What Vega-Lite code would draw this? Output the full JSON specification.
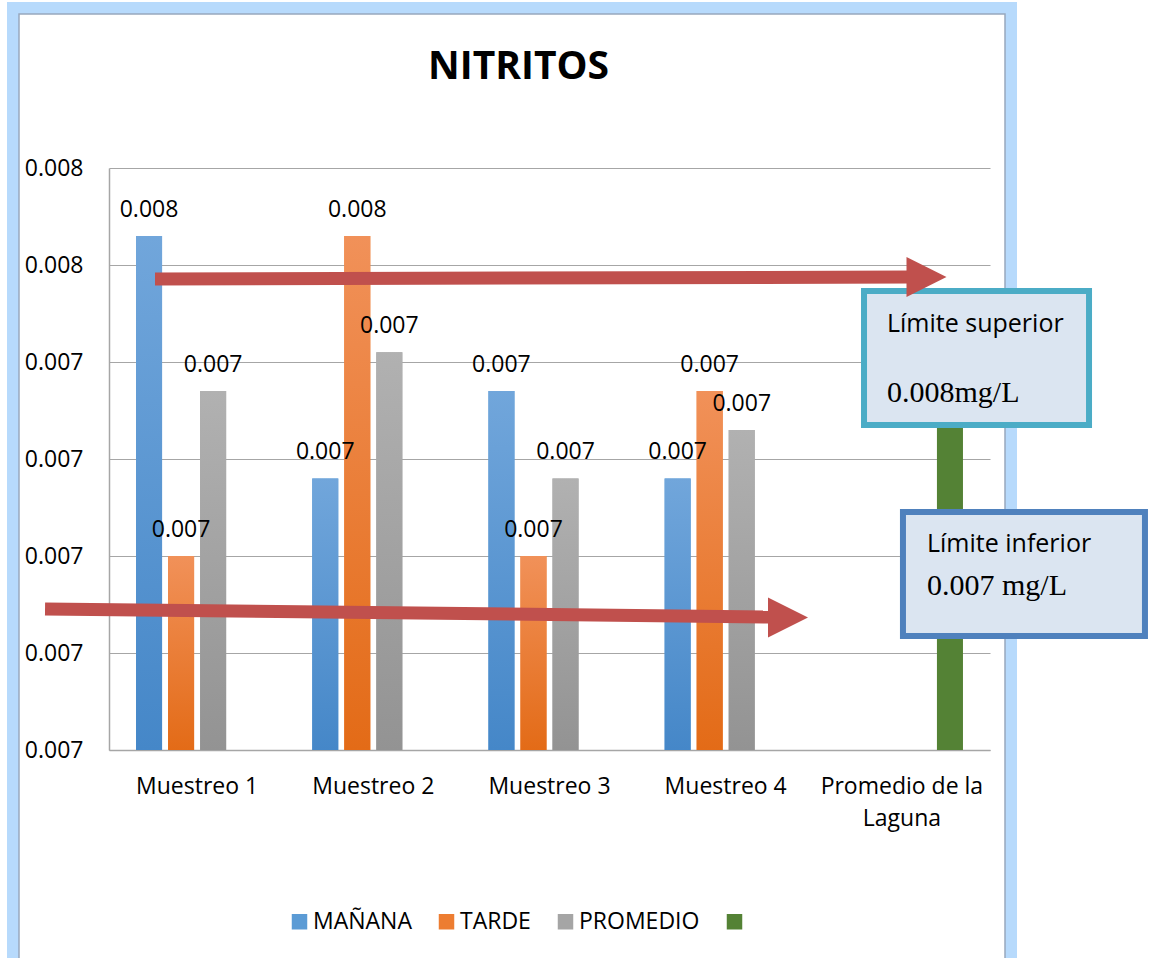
{
  "$schema": "https://vega.github.io/schema/vega-lite/v6.json",
  "width": 881,
  "height": 582,
  "autosize": {"type": "none"},
  "padding": {"left": 109, "top": 168, "right": 161, "bottom": 208},
  "background": "white",
  "title": {"text": "NITRITOS", "font": "Open Sans", "fontSize": 39, "fontWeight": "bold", "color": "#000000", "anchor": "middle", "baseline": "alphabetic", "offset": -116, "dx": -31},
  "config": {"view": {"stroke": null}, "font": "Open Sans"},
  "resolve": {"scale": {"x": "independent"}},
  "layer": [
    {
      "data": {"values": [{"x": -0.10897, "x2": 1.02384, "y": 0.00776495, "y2": 0.0067526}]},
      "mark": {"type": "rect", "fill": null, "stroke": "#b7dafc", "strokeWidth": 12, "clip": false},
      "encoding": {
        "x": {"field": "x", "type": "quantitative", "scale": {"domain": [0, 1], "nice": false, "zero": false}, "axis": null},
        "x2": {"field": "x2"},
        "y": {"field": "y", "type": "quantitative", "scale": {"domain": [0.007, 0.0076], "nice": false, "zero": false}, "title": null},
        "y2": {"field": "y2"}
      }
    },
    {
      "data": {"values": [{"x": -0.10216, "x2": 1.01703, "y": 0.0077588, "y2": 0.0067629}]},
      "mark": {"type": "rect", "fill": null, "stroke": "#98a8bd", "strokeWidth": 1.5, "clip": false},
      "encoding": {
        "x": {"field": "x", "type": "quantitative", "scale": {"domain": [0, 1], "nice": false, "zero": false}, "axis": null},
        "x2": {"field": "x2"},
        "y": {"field": "y", "type": "quantitative", "scale": {"domain": [0.007, 0.0076], "nice": false, "zero": false}, "title": null},
        "y2": {"field": "y2"}
      }
    },
    {
      "data": {"values": [
        {"muestreo": "Muestreo 1", "serie": "MAÑANA", "valor": 0.00753},
        {"muestreo": "Muestreo 1", "serie": "TARDE", "valor": 0.0072},
        {"muestreo": "Muestreo 1", "serie": "PROMEDIO", "valor": 0.00737},
        {"muestreo": "Muestreo 2", "serie": "MAÑANA", "valor": 0.00728},
        {"muestreo": "Muestreo 2", "serie": "TARDE", "valor": 0.00753},
        {"muestreo": "Muestreo 2", "serie": "PROMEDIO", "valor": 0.00741},
        {"muestreo": "Muestreo 3", "serie": "MAÑANA", "valor": 0.00737},
        {"muestreo": "Muestreo 3", "serie": "TARDE", "valor": 0.0072},
        {"muestreo": "Muestreo 3", "serie": "PROMEDIO", "valor": 0.00728},
        {"muestreo": "Muestreo 4", "serie": "MAÑANA", "valor": 0.00728},
        {"muestreo": "Muestreo 4", "serie": "TARDE", "valor": 0.00737},
        {"muestreo": "Muestreo 4", "serie": "PROMEDIO", "valor": 0.00733},
        {"muestreo": "Promedio de la Laguna", "serie": "LIMITE", "valor": 0.00735}
      ]},
      "encoding": {
        "x": {
          "field": "muestreo", "type": "nominal",
          "scale": {"domain": ["Muestreo 1", "Muestreo 2", "Muestreo 3", "Muestreo 4", "Promedio de la Laguna"], "paddingInner": 0, "paddingOuter": 0},
          "axis": {
            "title": null, "labelAngle": 0, "ticks": false, "domain": true, "domainColor": "#a6a6a6", "domainWidth": 1.5,
            "labelFont": "Open Sans", "labelFontSize": 23, "labelColor": "#000000", "labelPadding": 25, "labelLineHeight": 32,
            "labelExpr": "datum.label == 'Promedio de la Laguna' ? ['Promedio de la', 'Laguna'] : datum.label"
          }
        },
        "xOffset": {"field": "serie", "type": "nominal", "scale": {"domain": ["MAÑANA", "TARDE", "PROMEDIO", "LIMITE"], "paddingInner": 0.1875, "paddingOuter": 0.84375}},
        "y": {
          "field": "valor", "type": "quantitative",
          "scale": {"domain": [0.007, 0.0076], "nice": false, "zero": false},
          "axis": {
            "title": null, "values": [0.007, 0.0071, 0.0072, 0.0073, 0.0074, 0.0075, 0.0076],
            "labelExpr": "datum.value > 0.00745 ? '0.008' : '0.007'",
            "grid": true, "gridColor": "#a6a6a6", "gridWidth": 1.2, "domain": true, "domainColor": "#a6a6a6", "domainWidth": 1.5,
            "ticks": false, "labelPadding": 26, "labelFont": "Open Sans", "labelFontSize": 23, "labelColor": "#000000"
          }
        },
        "y2": {"datum": 0.007}
      },
      "layer": [
        {
          "mark": {"type": "bar"},
          "encoding": {
            "color": {
              "field": "serie", "type": "nominal",
              "scale": {"domain": ["MAÑANA", "TARDE", "PROMEDIO", "LIMITE"], "range": ["#5b9bd5", "#ed7d31", "#a5a5a5", "#548235"]},
              "legend": {
                "title": null, "orient": "none", "direction": "horizontal", "legendX": 179, "legendY": 742, "padding": 0,
                "symbolType": "square", "symbolSize": 240, "symbolStrokeWidth": 0, "labelFont": "Open Sans", "labelFontSize": 23,
                "labelColor": "#000000", "labelOffset": 2, "columnPadding": 23,
                "labelExpr": "datum.label == 'LIMITE' ? '' : datum.label"
              }
            }
          }
        },
        {
          "transform": [{"filter": "datum.serie == 'MAÑANA'"}],
          "mark": {"type": "bar", "color": {"gradient": "linear", "x1": 0, "y1": 0, "x2": 0, "y2": 1, "stops": [{"offset": 0, "color": "#71a6db"}, {"offset": 1, "color": "#4587c8"}]}}
        },
        {
          "transform": [{"filter": "datum.serie == 'TARDE'"}],
          "mark": {"type": "bar", "color": {"gradient": "linear", "x1": 0, "y1": 0, "x2": 0, "y2": 1, "stops": [{"offset": 0, "color": "#f19159"}, {"offset": 1, "color": "#e36b17"}]}}
        },
        {
          "transform": [{"filter": "datum.serie == 'PROMEDIO'"}],
          "mark": {"type": "bar", "color": {"gradient": "linear", "x1": 0, "y1": 0, "x2": 0, "y2": 1, "stops": [{"offset": 0, "color": "#b1b1b1"}, {"offset": 1, "color": "#939393"}]}}
        },
        {
          "transform": [{"filter": "datum.serie != 'LIMITE'"}],
          "mark": {"type": "text", "baseline": "alphabetic", "align": "center", "dy": -19, "font": "Open Sans", "fontSize": 23, "color": "#000000"},
          "encoding": {"text": {"field": "valor", "type": "quantitative", "format": ".3f"}}
        }
      ]
    },
    {
      "data": {"values": [{"x": 0.857, "x2": 1.1124, "y": 0.0074732, "y2": 0.0073351}]},
      "mark": {"type": "rect", "fill": "#dbe5f1", "stroke": "#4bacc6", "strokeWidth": 6, "clip": false},
      "encoding": {
        "x": {"field": "x", "type": "quantitative", "scale": {"domain": [0, 1], "nice": false, "zero": false}, "axis": null},
        "x2": {"field": "x2"},
        "y": {"field": "y", "type": "quantitative", "scale": {"domain": [0.007, 0.0076], "nice": false, "zero": false}, "title": null},
        "y2": {"field": "y2"}
      }
    },
    {
      "data": {"values": [{"x": 0.9012, "x2": 1.1759, "y": 0.0072454, "y2": 0.0071175}]},
      "mark": {"type": "rect", "fill": "#dbe5f1", "stroke": "#4f81bd", "strokeWidth": 6, "clip": false},
      "encoding": {
        "x": {"field": "x", "type": "quantitative", "scale": {"domain": [0, 1], "nice": false, "zero": false}, "axis": null},
        "x2": {"field": "x2"},
        "y": {"field": "y", "type": "quantitative", "scale": {"domain": [0.007, 0.0076], "nice": false, "zero": false}, "title": null},
        "y2": {"field": "y2"}
      }
    },
    {
      "data": {"values": [
        {"x": 0.8831, "y": 0.0074309, "t": "Límite superior"},
        {"x": 0.9285, "y": 0.0072041, "t": "Límite inferior"}
      ]},
      "mark": {"type": "text", "align": "left", "baseline": "alphabetic", "font": "Open Sans", "fontSize": 25, "color": "#000000", "clip": false},
      "encoding": {
        "x": {"field": "x", "type": "quantitative", "scale": {"domain": [0, 1], "nice": false, "zero": false}, "axis": null},
        "y": {"field": "y", "type": "quantitative", "scale": {"domain": [0.007, 0.0076], "nice": false, "zero": false}, "title": null},
        "text": {"field": "t"}
      }
    },
    {
      "data": {"values": [
        {"x": 0.8831, "y": 0.0073588, "t": "0.008mg/L"},
        {"x": 0.9285, "y": 0.0071598, "t": "0.007 mg/L"}
      ]},
      "mark": {"type": "text", "align": "left", "baseline": "alphabetic", "font": "Liberation Serif", "fontSize": 30, "color": "#000000", "clip": false},
      "encoding": {
        "x": {"field": "x", "type": "quantitative", "scale": {"domain": [0, 1], "nice": false, "zero": false}, "axis": null},
        "y": {"field": "y", "type": "quantitative", "scale": {"domain": [0.007, 0.0076], "nice": false, "zero": false}, "title": null},
        "text": {"field": "t"}
      }
    },
    {
      "data": {"values": [
        {"x": 0.0522, "x2": 0.9115, "y": 0.0074856, "y2": 0.0074876},
        {"x": -0.0726, "x2": 0.7526, "y": 0.0071454, "y2": 0.0071371}
      ]},
      "mark": {"type": "rule", "color": "#c0504d", "strokeWidth": 13, "strokeCap": "butt", "clip": false},
      "encoding": {
        "x": {"field": "x", "type": "quantitative", "scale": {"domain": [0, 1], "nice": false, "zero": false}, "axis": null},
        "x2": {"field": "x2"},
        "y": {"field": "y", "type": "quantitative", "scale": {"domain": [0.007, 0.0076], "nice": false, "zero": false}, "title": null},
        "y2": {"field": "y2"}
      }
    },
    {
      "data": {"values": [
        {"x": 0.9279, "y": 0.0074876},
        {"x": 0.7707, "y": 0.0071366}
      ]},
      "mark": {"type": "point", "shape": "M-1,-1L1,0L-1,1Z", "size": 1600, "filled": true, "color": "#c0504d", "opacity": 1, "strokeWidth": 0, "clip": false},
      "encoding": {
        "x": {"field": "x", "type": "quantitative", "scale": {"domain": [0, 1], "nice": false, "zero": false}, "axis": null},
        "y": {"field": "y", "type": "quantitative", "scale": {"domain": [0.007, 0.0076], "nice": false, "zero": false}, "title": null}
      }
    }
  ]
}
